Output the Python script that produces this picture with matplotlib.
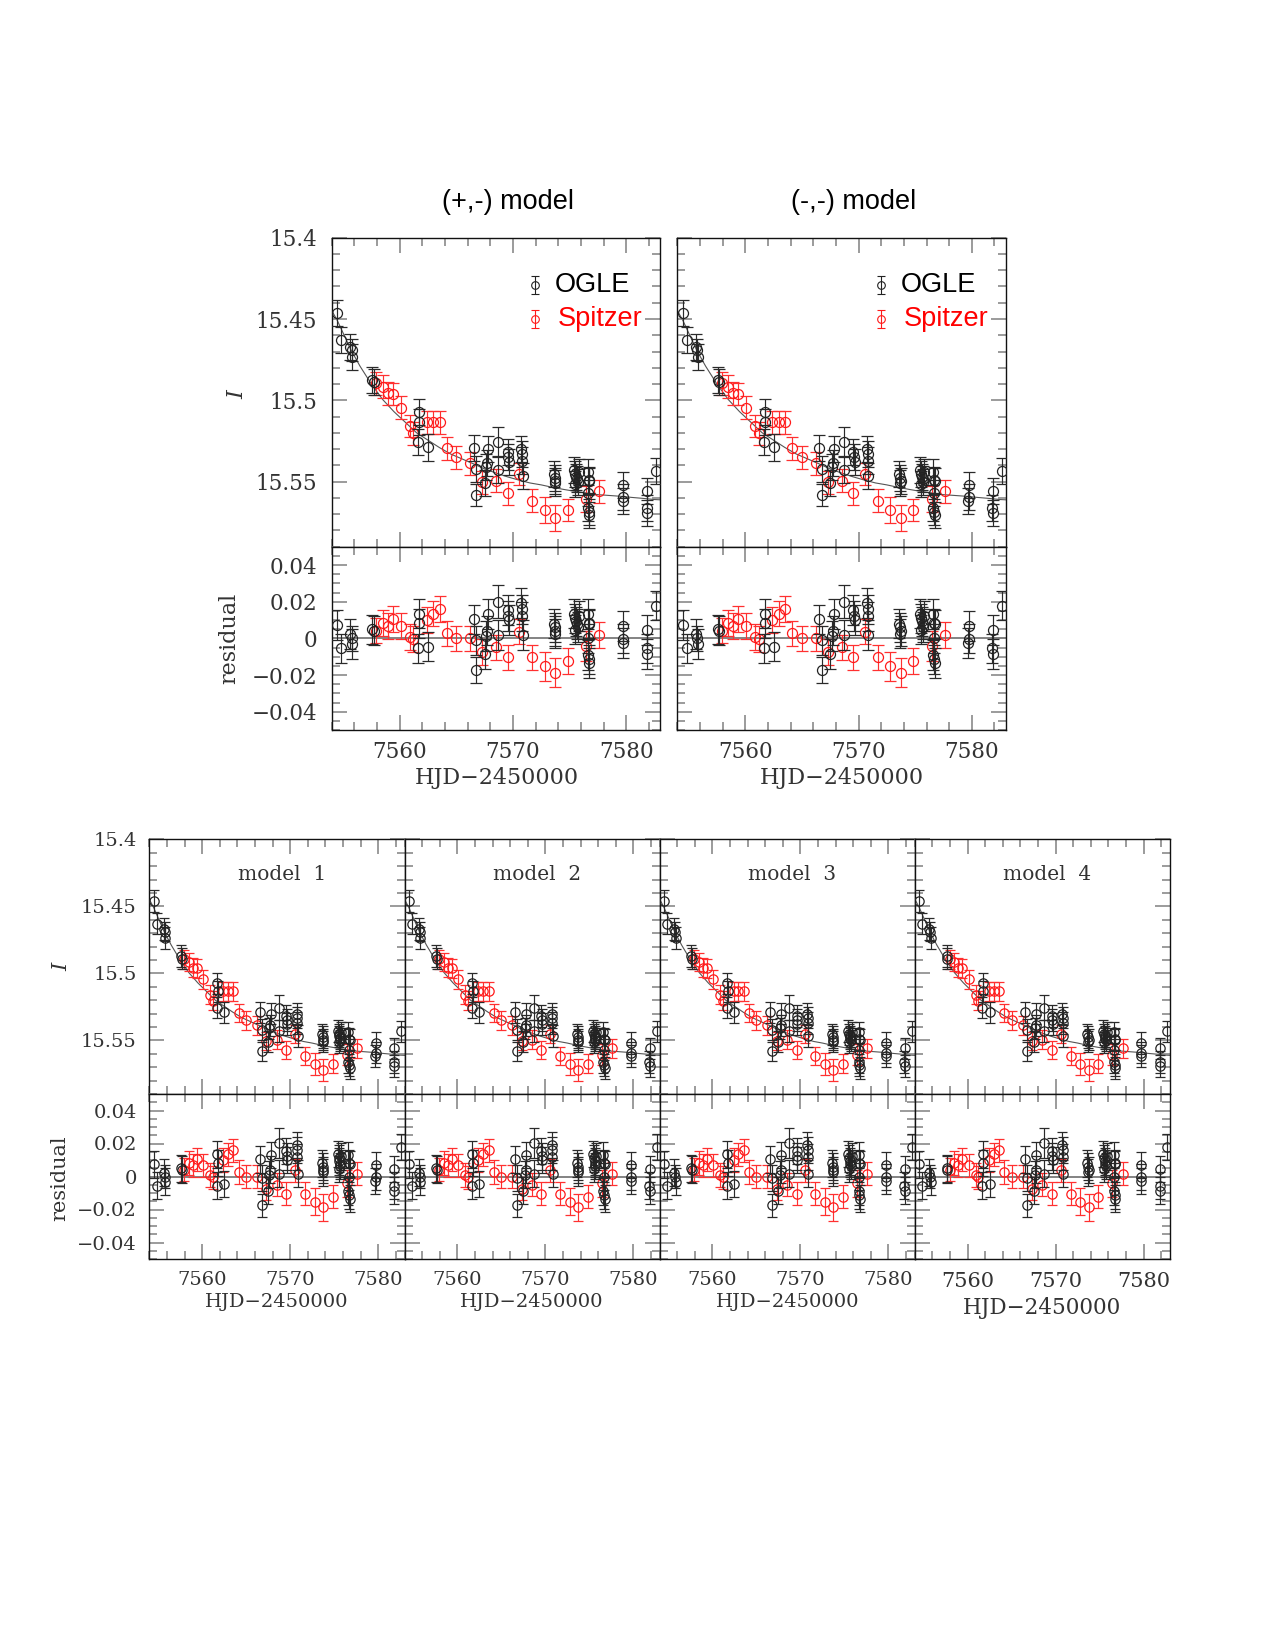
import matplotlib
matplotlib.use("Agg")
import matplotlib.pyplot as plt
from matplotlib.ticker import MultipleLocator

W, H = 1275, 1650

# OGLE photometry: time, magnitude, residual (model - data), error
ogle_t = [7554.50, 7554.85, 7555.65, 7555.75, 7555.80, 7557.60, 7557.70,
          7561.70, 7561.75, 7561.65, 7562.50,
          7566.55, 7566.75, 7566.75, 7567.50, 7567.75, 7567.80, 7567.65,
          7568.70, 7568.70, 7569.55, 7569.60, 7569.65,
          7570.75, 7570.80, 7570.80, 7570.85,
          7573.60, 7573.70, 7573.75, 7573.70,
          7575.40, 7575.50, 7575.60, 7575.65, 7575.70, 7575.50, 7575.80,
          7576.60, 7576.70, 7576.75, 7576.65, 7576.60, 7576.70, 7576.75,
          7579.75, 7579.75, 7579.70,
          7581.85, 7581.80, 7581.85, 7582.65]
ogle_mag = [15.4461, 15.4630, 15.4670, 15.4690, 15.4736, 15.4872, 15.4890,
            15.5074, 15.5135, 15.5255, 15.5290,
            15.5291, 15.5420, 15.5582, 15.5510, 15.5388, 15.5301, 15.5410,
            15.5255, 15.5429, 15.5317, 15.5347, 15.5378,
            15.5301, 15.5330, 15.5370, 15.5466,
            15.5455, 15.5475, 15.5495, 15.5510,
            15.5430, 15.5455, 15.5470, 15.5485, 15.5500, 15.5515, 15.5440,
            15.5440, 15.5490, 15.5495, 15.5570, 15.5660, 15.5685, 15.5705,
            15.5521, 15.5592, 15.5616,
            15.5560, 15.5660, 15.5690, 15.5433]
ogle_res = [0.0073, -0.0055, 0.0024, 0.0000, -0.0031, 0.0049, 0.0042,
            0.0134, 0.0082, -0.0055, -0.0046,
            0.0104, -0.0010, -0.0174, -0.0086, 0.0042, 0.0132, 0.0012,
            0.0201, 0.0018, 0.0155, 0.0122, 0.0101,
            0.0192, 0.0159, 0.0120, 0.0018,
            0.0080, 0.0060, 0.0040, 0.0025,
            0.0135, 0.0110, 0.0092, 0.0078, 0.0062, 0.0047, 0.0122,
            0.0132, 0.0082, 0.0076, 0.0000, -0.0090, -0.0115, -0.0134,
            0.0068, -0.0002, -0.0026,
            0.0046, -0.0055, -0.0086, 0.0179]
ogle_err = [0.008, 0.008, 0.008, 0.007, 0.008, 0.008, 0.008,
            0.008, 0.008, 0.008, 0.008,
            0.008, 0.008, 0.007, 0.008, 0.008, 0.008, 0.008,
            0.009, 0.008, 0.008, 0.008, 0.008,
            0.008, 0.008, 0.008, 0.008,
            0.008, 0.008, 0.008, 0.008,
            0.008, 0.008, 0.008, 0.008, 0.008, 0.008, 0.008,
            0.008, 0.008, 0.008, 0.008, 0.008, 0.008, 0.008,
            0.008, 0.008, 0.008,
            0.008, 0.008, 0.008, 0.008]

# Spitzer photometry (aligned to the OGLE scale)
spz_t = [7557.95, 7558.50, 7558.95, 7559.40, 7560.10, 7560.90, 7561.20,
         7562.40, 7562.95, 7563.55, 7564.15, 7565.00, 7566.25, 7567.30,
         7568.50, 7569.55, 7570.55, 7571.70, 7572.80, 7573.75, 7574.85,
         7576.45, 7577.60]
spz_mag = [15.4896, 15.4916, 15.4957, 15.4961, 15.5045, 15.5158, 15.5203,
           15.5135, 15.5135, 15.5135, 15.5295, 15.5351, 15.5388, 15.5504,
           15.5494, 15.5572, 15.5453, 15.5617, 15.5675, 15.5722, 15.5675,
           15.5607, 15.5560]
spz_res = [0.0042, 0.0082, 0.0068, 0.0104, 0.0068, 0.0009, -0.0005,
           0.0100, 0.0135, 0.0160, 0.0027, 0.0000, 0.0000, -0.0073,
           -0.0049, -0.0104, 0.0037, -0.0104, -0.0152, -0.0187, -0.0123,
           -0.0042, 0.0018]
spz_err = [0.007, 0.007, 0.007, 0.007, 0.007, 0.007, 0.007,
           0.007, 0.007, 0.007, 0.007, 0.007, 0.007, 0.007,
           0.007, 0.007, 0.007, 0.007, 0.008, 0.008, 0.007,
           0.008, 0.007]

# model light curve
model_t = [7553.9, 7554.5, 7555.0, 7555.7, 7556.5, 7557.5, 7558.5, 7559.5,
           7560.5, 7561.5, 7562.5, 7563.5, 7564.5, 7565.5, 7566.5, 7567.5,
           7568.5, 7569.5, 7570.5, 7571.5, 7572.5, 7573.5, 7574.5, 7575.5,
           7576.5, 7577.5, 7578.5, 7579.5, 7580.5, 7581.5, 7582.5, 7583.1]
model_mag = [15.4435, 15.4510, 15.4585, 15.4690, 15.4790, 15.4900, 15.4995,
             15.5070, 15.5135, 15.5200, 15.5245, 15.5290, 15.5330, 15.5360,
             15.5390, 15.5422, 15.5447, 15.5470, 15.5490, 15.5508, 15.5520,
             15.5535, 15.5548, 15.5560, 15.5570, 15.5580, 15.5585, 15.5590,
             15.5597, 15.5603, 15.5610, 15.5612]

top_titles = ["(+,-) model", "(-,-) model"]
bottom_titles = ["model  1", "model  2", "model  3", "model  4"]
x_ticks = [7560, 7570, 7580]
mag_ticks = [15.4, 15.45, 15.5, 15.55]
mag_labels = ["15.4", "15.45", "15.5", "15.55"]
res_ticks = [-0.04, -0.02, 0.0, 0.02, 0.04]
res_labels = ["\u22120.04", "\u22120.02", "0", "0.02", "0.04"]

SERIF = "DejaVu Serif"
SANS = "Liberation Sans"
TXT = "#333333"

fig = plt.figure(figsize=(W / 100, H / 100), dpi=100)


def px_axes(l, t, r, b):
    return fig.add_axes([l / W, 1 - b / H, (r - l) / W, (b - t) / H])


def style(ax, fs, xpad, ypad):
    ax.set_xlim(7554, 7583)
    ax.xaxis.set_minor_locator(MultipleLocator(2))
    ax.tick_params(which="both", direction="in", top=True, right=True,
                   color="#808080", width=1.1, labelsize=fs,
                   labelcolor=TXT)
    ax.tick_params(which="major", length=11)
    ax.tick_params(which="minor", length=5.5)
    ax.tick_params(axis="x", pad=xpad)
    ax.tick_params(axis="y", pad=ypad)
    for s in ax.spines.values():
        s.set_linewidth(1.0)
        s.set_color("#111111")
    for lab in ax.get_xticklabels() + ax.get_yticklabels():
        lab.set_fontfamily(SERIF)


def draw_pair(l, t, mid, b, r, fs, ms, cap, ylabels, xpad, ypad):
    a1 = px_axes(l, t, r, mid)
    a2 = px_axes(l, mid, r, b)
    ogle_style = dict(fmt="o", mfc="none", mec="#222222", ms=ms, mew=0.9,
                      ecolor="#2a2a2a", elinewidth=0.85, capsize=cap,
                      capthick=0.85, zorder=3)
    spz_style = dict(fmt="o", mfc="none", mec="#ff1a1a", ms=ms, mew=0.9,
                     ecolor="#ff3030", elinewidth=0.85, capsize=cap,
                     capthick=0.85, zorder=2)

    a1.plot(model_t, model_mag, color="#555555", lw=0.8, zorder=1)
    a1.errorbar(ogle_t, ogle_mag, yerr=ogle_err, **ogle_style)
    a1.errorbar(spz_t, spz_mag, yerr=spz_err, **spz_style)
    a1.set_ylim(15.59, 15.4)
    a1.set_yticks(mag_ticks, labels=mag_labels if ylabels else [])
    a1.yaxis.set_minor_locator(MultipleLocator(0.01))
    a1.set_xticks(x_ticks, labels=[])

    a2.axhline(0, color="#6e6e6e", lw=1.2, zorder=1)
    a2.errorbar(ogle_t, ogle_res, yerr=ogle_err, **ogle_style)
    a2.errorbar(spz_t, spz_res, yerr=spz_err, **spz_style)
    a2.set_ylim(-0.05, 0.05)
    a2.set_yticks(res_ticks, labels=res_labels if ylabels else [])
    a2.yaxis.set_minor_locator(MultipleLocator(0.005))
    a2.set_xticks(x_ticks, labels=[str(v) for v in x_ticks])

    style(a1, fs, xpad, ypad)
    style(a2, fs, xpad, ypad)
    return a1, a2


# ---- top row: (+,-) and (-,-) ----
top_lefts = [331.7, 677.3]
for i, l in enumerate(top_lefts):
    a1, a2 = draw_pair(l, 237.7, 546.7, 730, l + 328.5, 15.5, 7.2, 4.3,
                       i == 0, 8.2, 10.4)
    fig.text((l + 176.5) / W, 1 - 202 / H, top_titles[i], family=SANS,
             fontsize=19.5, ha="center", va="center")
    fig.text((l + 165) / W, 1 - 778 / H, "HJD\u22122450000", family=SERIF,
             fontsize=16, color=TXT, ha="center", va="center")
    # legend keys
    for yf, col, lab, xt in [(0.847, "#222222", "OGLE", 0.680),
                             (0.736, "#ff1a1a", "Spitzer", 0.689)]:
        a1.errorbar([0.619], [yf], yerr=[0.0286], fmt="o", mfc="none",
                    mec=col, ms=5.5, mew=0.8, ecolor=col, elinewidth=0.8,
                    capsize=3.2, capthick=0.8, transform=a1.transAxes,
                    clip_on=False)
        a1.text(xt, yf, lab, transform=a1.transAxes, family=SANS,
                fontsize=19.5, color="black" if lab == "OGLE" else "red",
                ha="left", va="center")

fig.text(237 / W, 1 - 394.5 / H, "I", family=SERIF, style="italic",
         fontsize=16, color=TXT, rotation=90, ha="center", va="center")
fig.text(229 / W, 1 - 638 / H, "residual", family=SERIF, fontsize=16,
         color=TXT, rotation=90, ha="center", va="center")

# ---- bottom row: models 1-4 ----
pw = 255.2
for i in range(4):
    l = 149.3 + i * pw
    last = i == 3
    fs = 15.0 if last else 14.0
    a1, a2 = draw_pair(l, 839.3, 1094, 1259, l + pw, fs, 6.7, 3.8,
                       i == 0, 9.6 if last else 8.3, 9.0)
    fig.text((l + pw / 2 + 5) / W, 1 - 875 / H, bottom_titles[i],
             family=SERIF, fontsize=14.5, color=TXT, ha="center",
             va="center")
    fig.text((l + pw / 2) / W, 1 - (1307.6 if last else 1301.7) / H,
             "HJD\u22122450000", family=SERIF,
             fontsize=15.5 if last else 14, color=TXT, ha="center",
             va="center")

fig.text(61.7 / W, 1 - 966.7 / H, "I", family=SERIF, style="italic",
         fontsize=15, color=TXT, rotation=90, ha="center", va="center")
fig.text(60 / W, 1 - 1178 / H, "residual", family=SERIF, fontsize=15,
         color=TXT, rotation=90, ha="center", va="center")

fig.savefig("out.png", dpi=100)
